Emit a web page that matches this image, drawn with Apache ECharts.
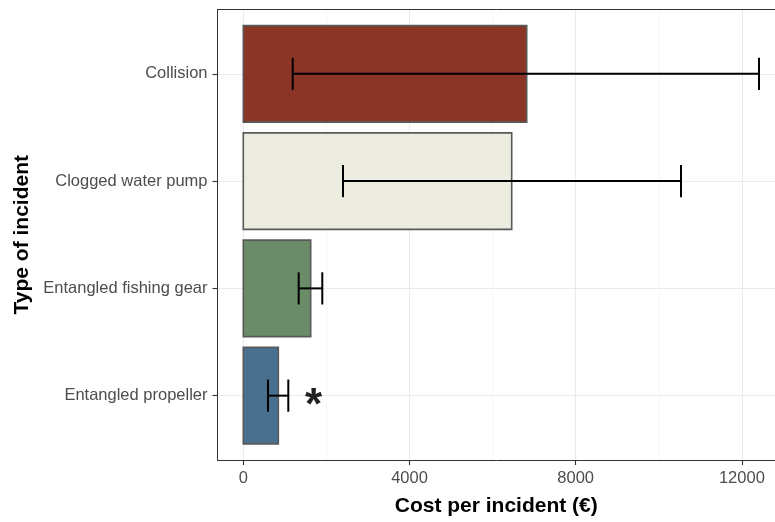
<!DOCTYPE html>
<html>
<head>
<meta charset="utf-8">
<script src="https://cdn.jsdelivr.net/npm/echarts@6/dist/echarts.min.js"></script>
<style>html,body{margin:0;padding:0;background:#fff}#c{width:775px;height:522px}</style>
</head>
<body>
<div id="c"></div>
<script>
// Categories, bottom to top on the y axis
const categories = ['Entangled propeller', 'Entangled fishing gear', 'Clogged water pump', 'Collision'];
const meanCost = [843, 1622, 6460, 6821];
const lowerErr = [595, 1333, 2400, 1189];
const upperErr = [1083, 1901, 10535, 12412];
const barColors = ['#4a7090', '#6a8c69', '#ecede0', '#8a3526'];
const xTicks = [0, 4000, 8000, 12000];
const xMinorTicks = [2000, 6000, 10000];
const yTicks = [1, 2, 3, 4];
const annotations = [{ x: 1690, y: 1, text: '*' }];

const FONT = 'Liberation Sans, Arial, sans-serif';
const X_MIN = -621, X_MAX = 12797;

const barData = categories.map((c, i) => [meanCost[i], i + 1, i]);
const errData = categories.map((c, i) => [lowerErr[i], i + 1, upperErr[i]]);

const border = { show: true, onZero: false, lineStyle: { color: '#333333', width: 1 } };

const chart = echarts.init(document.getElementById('c'), null, { renderer: 'canvas' });
chart.setOption({
  animation: false,
  backgroundColor: '#fff',
  grid: { left: 217.5, top: 9.5, right: 0, bottom: 60, show: false },
  xAxis: [{
    type: 'value', min: X_MIN, max: X_MAX, position: 'bottom',
    axisLine: border,
    axisTick: { show: true, length: 5, customValues: xTicks, lineStyle: { color: '#333333', width: 1.1 } },
    axisLabel: { customValues: xTicks, color: '#4d4d4d', fontSize: 16.5, fontFamily: FONT, margin: 10,
      formatter: v => String(v) },
    splitLine: { show: true, lineStyle: { color: '#ebebeb', width: 1.1 } },
    name: 'Cost per incident (€)', nameLocation: 'middle', nameGap: 36,
    nameTextStyle: { color: '#000', fontSize: 21, fontWeight: 'bold', fontFamily: FONT }
  }, {
    type: 'value', min: X_MIN, max: X_MAX, position: 'top',
    axisLine: border,
    axisTick: { show: false, customValues: xMinorTicks },
    axisLabel: { show: false, customValues: xMinorTicks },
    splitLine: { show: true, lineStyle: { color: '#f2f2f2', width: 0.8 } }
  }],
  yAxis: {
    type: 'value', min: 0.4, max: 4.6, position: 'left',
    axisLine: border,
    axisTick: { show: true, length: 5, customValues: yTicks, lineStyle: { color: '#333333', width: 1.1 } },
    axisLabel: {
      customValues: yTicks, color: '#4d4d4d', fontSize: 16.5, fontFamily: FONT, margin: 10,
      formatter: v => categories[Math.round(v) - 1] || ''
    },
    splitLine: { show: true, lineStyle: { color: '#ebebeb', width: 1.1 } },
    name: 'Type of incident', nameLocation: 'middle', nameGap: 184, nameRotate: 90,
    nameTextStyle: { color: '#000', fontSize: 21, fontWeight: 'bold', fontFamily: FONT }
  },
  series: [{
    type: 'custom',
    xAxisIndex: 0, yAxisIndex: 0,
    data: barData,
    renderItem: function (params, api) {
      const v = api.value(0), y = api.value(1), ci = api.value(2);
      const s = api.coord([0, y]);
      const e = api.coord([v, y]);
      const h = api.size([0, 0.9])[1];
      return {
        type: 'rect',
        shape: { x: s[0], y: s[1] - h / 2, width: e[0] - s[0], height: h },
        style: { fill: barColors[ci], stroke: '#595959', lineWidth: 1.6 }
      };
    }
  }, {
    type: 'custom',
    xAxisIndex: 0, yAxisIndex: 0,
    data: errData,
    renderItem: function (params, api) {
      const lo = api.value(0), y = api.value(1), hi = api.value(2);
      const a = api.coord([lo, y]);
      const b = api.coord([hi, y]);
      const h = api.size([0, 0.3])[1];
      const st = { stroke: '#000', lineWidth: 2 };
      return {
        type: 'group',
        children: [
          { type: 'line', shape: { x1: a[0], y1: a[1], x2: b[0], y2: b[1] }, style: st },
          { type: 'line', shape: { x1: a[0], y1: a[1] - h / 2, x2: a[0], y2: a[1] + h / 2 }, style: st },
          { type: 'line', shape: { x1: b[0], y1: b[1] - h / 2, x2: b[0], y2: b[1] + h / 2 }, style: st }
        ]
      };
    }
  }, {
    type: 'custom',
    xAxisIndex: 0, yAxisIndex: 0,
    data: annotations.map(a => [a.x, a.y]),
    renderItem: function (params, api) {
      const p = api.coord([api.value(0), api.value(1)]);
      return {
        type: 'text',
        x: p[0], y: p[1] + 11,
        style: {
          text: annotations[params.dataIndex].text,
          fill: '#222', font: 'bold 44px ' + FONT,
          align: 'center', verticalAlign: 'middle'
        }
      };
    }
  }]
});
</script>
</body>
</html>
